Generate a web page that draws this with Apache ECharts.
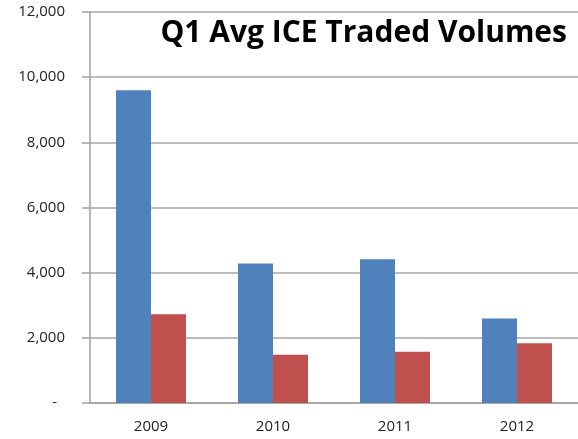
<!DOCTYPE html>
<html>
<head>
<meta charset="utf-8">
<script src="https://cdn.jsdelivr.net/npm/echarts@6/dist/echarts.min.js"></script>
<style>
  html, body { margin: 0; padding: 0; background: #fff; }
  #chart { width: 578px; height: 439px; }
</style>
</head>
<body>
<div id="chart"></div>
<script>
  var years = ["2009", "2010", "2011", "2012"];
  var seriesA = [9600, 4280, 4410, 2590];
  var seriesB = [2720, 1480, 1575, 1835];
  var yTicks = { min: 0, max: 12000, interval: 2000 };

  var chart = echarts.init(document.getElementById("chart"));
  var option = {
    animation: false,
    title: {
      text: "Q1 Avg ICE Traded Volumes",
      right: 6,
      top: 13,
      textStyle: {
        fontFamily: "Open Sans",
        fontWeight: "bold",
        fontSize: 30,
        color: "#000"
      }
    },
    grid: { left: 90, right: -5, top: 12, bottom: 36 },
    xAxis: {
      type: "category",
      data: years,
      axisLine: { lineStyle: { color: "#a0a0a0", width: 1.5 } },
      axisTick: { length: 7, lineStyle: { color: "#a0a0a0", width: 1.5 } },
      axisLabel: { margin: 16, fontFamily: "Open Sans", fontSize: 15, color: "#222" }
    },
    yAxis: {
      type: "value",
      min: yTicks.min,
      max: yTicks.max,
      interval: yTicks.interval,
      axisLine: { show: true, lineStyle: { color: "#a0a0a0", width: 1.5 } },
      axisTick: { show: true, length: 8, lineStyle: { color: "#a0a0a0", width: 1.5 } },
      splitLine: { lineStyle: { color: "#a6a6a6", width: 1.5 } },
      axisLabel: {
        margin: 25,
        fontFamily: "Open Sans",
        fontSize: 15,
        color: "#222",
        formatter: function (v) {
          return v === 0 ? "{z|-}" : v.toLocaleString("en-US");
        },
        rich: {
          z: { fontFamily: "Open Sans", fontSize: 15, color: "#222", padding: [0, 8, 0, 0] }
        }
      }
    },
    series: [
      {
        type: "bar",
        data: seriesA,
        barWidth: 35,
        barGap: "0%",
        itemStyle: { color: "#4f81bd" }
      },
      {
        type: "bar",
        data: seriesB,
        barWidth: 35,
        barGap: "0%",
        itemStyle: { color: "#c0504d" }
      }
    ]
  };
  chart.setOption(option);
</script>
</body>
</html>
